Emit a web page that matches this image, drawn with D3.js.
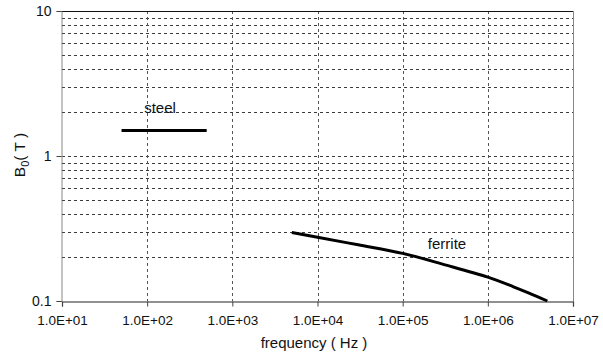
<!DOCTYPE html>
<html>
<head>
<meta charset="utf-8">
<script src="https://cdn.jsdelivr.net/npm/d3@7"></script>
<style>
  html, body { margin: 0; padding: 0; background: #fff; }
  svg { display: block; font-family: "Liberation Sans", Arial, sans-serif; }
</style>
</head>
<body>
<svg id="chart" width="603" height="358"></svg>
<script>
// Frequency decades on the x axis and induction decades on the y axis
const xTicks = [1e1, 1e2, 1e3, 1e4, 1e5, 1e6, 1e7];
const xTickLabels = ["1.0E+01", "1.0E+02", "1.0E+03", "1.0E+04", "1.0E+05", "1.0E+06", "1.0E+07"];
const yTicks = [0.1, 1, 10];
const yTickLabels = ["0.1", "1", "10"];

// Steel: flat saturation level over its usable band
const steelFreq = [50, 500];
const steelB = [1.5, 1.5];

// Ferrite: falling peak flux density with frequency
const ferriteFreq = [5e3, 1e4, 3e4, 1e5, 3e5, 1e6, 2e6, 3e6, 5e6];
const ferriteB = [0.297, 0.275, 0.244, 0.213, 0.179, 0.146, 0.1253, 0.1138, 0.100];

const svg = d3.select("#chart");
const plotL = 62, plotR = 573, plotT = 11, plotB = 301;

const x = d3.scaleLog().domain([1e1, 1e7]).range([plotL, plotR]);
const y = d3.scaleLog().domain([0.1, 10]).range([plotB, plotT]);

// Minor horizontal grid (2..9 in each decade, plus 1)
const hGrid = [];
[0.1, 1].forEach(d => { for (let k = 1; k <= 9; k++) { const v = d * k; if (v > 0.1 && v < 10) hGrid.push(v); } });

svg.append("g").selectAll("line").data(hGrid).join("line")
  .attr("x1", plotL).attr("x2", plotR)
  .attr("y1", d => Math.round(y(d)) + 0.5).attr("y2", d => Math.round(y(d)) + 0.5)
  .attr("stroke", "#3a3a3a").attr("stroke-width", 1).attr("stroke-dasharray", "3,3");

// Vertical grid at each decade
svg.append("g").selectAll("line").data(xTicks.slice(1, -1)).join("line")
  .attr("x1", d => Math.round(x(d)) + 0.5).attr("x2", d => Math.round(x(d)) + 0.5)
  .attr("y1", plotT).attr("y2", plotB)
  .attr("stroke", "#555").attr("stroke-width", 1).attr("stroke-dasharray", "3,3");

// Plot frame
svg.append("line").attr("x1", plotL).attr("x2", plotR).attr("y1", plotT + 0.5).attr("y2", plotT + 0.5)
  .attr("stroke", "#111").attr("stroke-width", 1.2);
svg.append("line").attr("x1", plotR + 0.5).attr("x2", plotR + 0.5).attr("y1", plotT).attr("y2", plotB)
  .attr("stroke", "#888").attr("stroke-width", 1);

// Axes
const xAxis = d3.axisBottom(x).tickValues(xTicks).tickSize(5).tickPadding(9)
  .tickFormat((d, i) => xTickLabels[i]);
const gx = svg.append("g").attr("transform", `translate(0,${plotB + 0.5})`).call(xAxis);
gx.select(".domain").attr("stroke", "#222").attr("stroke-width", 1.2);
gx.selectAll(".tick line").attr("stroke", "#444");
gx.selectAll("text").attr("font-size", 13.5).attr("fill", "#111");

const yAxis = d3.axisLeft(y).tickValues(yTicks).tickSize(5).tickPadding(5)
  .tickFormat((d, i) => yTickLabels[i]);
const gy = svg.append("g").attr("transform", `translate(${plotL - 0.5},0)`).call(yAxis);
gy.select(".domain").attr("stroke", "#888").attr("stroke-width", 1);
gy.selectAll(".tick line").attr("stroke", "#444");
gy.selectAll("text").attr("font-size", 14).attr("fill", "#111");

// Minor y ticks inside the axis
svg.append("g").selectAll("line").data(hGrid.filter(v => v !== 1)).join("line")
  .attr("x1", plotL).attr("x2", plotL + 3)
  .attr("y1", d => Math.round(y(d)) + 0.5).attr("y2", d => Math.round(y(d)) + 0.5)
  .attr("stroke", "#444");

// Curves
const line = d3.line().x(d => x(d[0])).y(d => y(d[1])).curve(d3.curveCatmullRom.alpha(0.5));
svg.append("path").datum(d3.zip(steelFreq, steelB)).attr("d", line)
  .attr("fill", "none").attr("stroke", "#000").attr("stroke-width", 3);
svg.append("path").datum(d3.zip(ferriteFreq, ferriteB)).attr("d", line)
  .attr("fill", "none").attr("stroke", "#000").attr("stroke-width", 3);

// Series labels
svg.append("text").attr("x", 160).attr("y", 113).attr("text-anchor", "middle")
  .attr("font-size", 15).attr("fill", "#111").text("steel");
svg.append("text").attr("x", 447).attr("y", 249).attr("text-anchor", "middle")
  .attr("font-size", 15).attr("fill", "#111").text("ferrite");

// Axis titles
svg.append("text").attr("x", 314).attr("y", 348).attr("text-anchor", "middle")
  .attr("font-size", 15).attr("fill", "#111").text("frequency ( Hz )");

const yt = svg.append("text").attr("transform", "translate(25,155) rotate(-90)")
  .attr("text-anchor", "middle").attr("font-size", 15.5).attr("fill", "#111");
yt.append("tspan").text("B");
yt.append("tspan").attr("font-size", 11).attr("dy", 4).text("0");
yt.append("tspan").attr("dy", -4).text("( T )");
</script>
</body>
</html>
